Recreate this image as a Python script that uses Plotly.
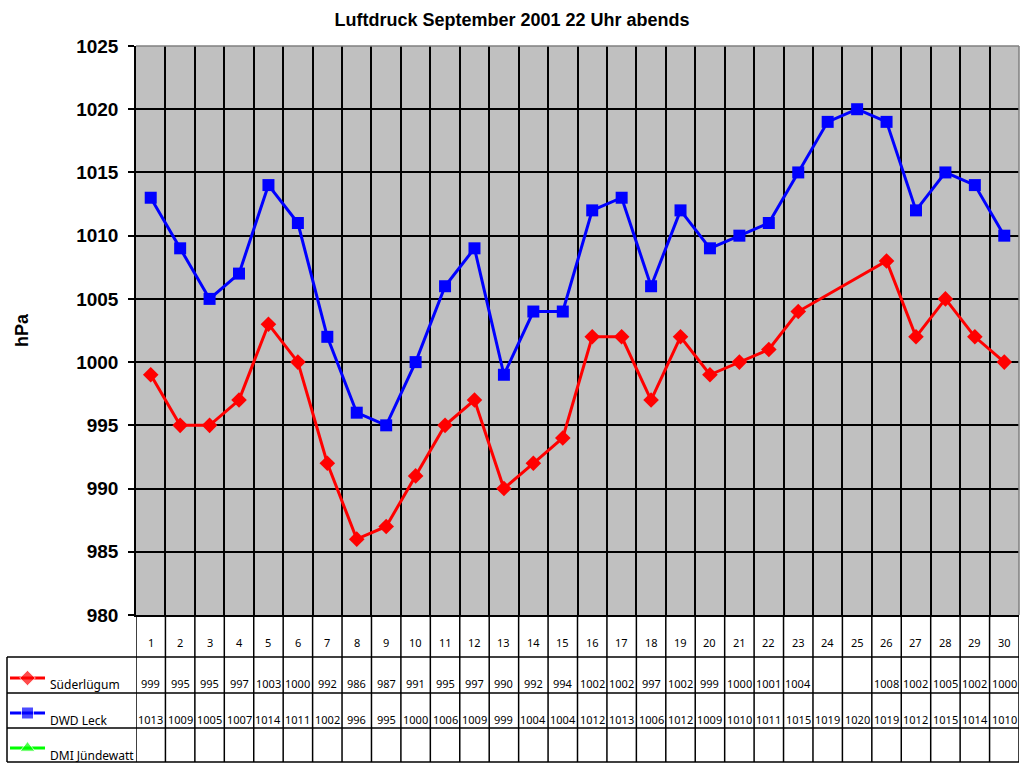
import plotly.graph_objects as go

# Luftdruck um 22 Uhr, September 2001
days = list(range(1, 31))
suederluegum = [999, 995, 995, 997, 1003, 1000, 992, 986, 987, 991,
                995, 997, 990, 992, 994, 1002, 1002, 997, 1002, 999,
                1000, 1001, 1004, None, None, 1008, 1002, 1005, 1002, 1000]
dwd_leck = [1013, 1009, 1005, 1007, 1014, 1011, 1002, 996, 995, 1000,
            1006, 1009, 999, 1004, 1004, 1012, 1013, 1006, 1012, 1009,
            1010, 1011, 1015, 1019, 1020, 1019, 1012, 1015, 1014, 1010]
dmi_juendewatt = [None] * 30  # keine Werte

series_names = ['Süderlügum', 'DWD Leck', 'DMI Jündewatt']
series_values = [suederluegum, dwd_leck, dmi_juendewatt]
series_colors = ['#FF0000', '#0000FF', '#00FF00']
series_symbols = ['diamond', 'square', 'triangle-up']
marker_sizes = [12, 12, 13]

W, H = 1024, 768


def py(p):
    # pixel row -> paper coordinate
    return (H - p) / H


def px_(p):
    return p / W


plot_left, plot_right, plot_top, plot_bottom = 136, 1019, 46, 615
table_rows = [657, 693, 728, 762]
value_rows = [683, 719, 754]
key_rows = [678, 713, 748]  # legend keys in the table, pixel rows

fig = go.Figure()
for i in range(3):
    fig.add_trace(go.Scatter(
        x=days, y=series_values[i], name=series_names[i],
        mode='lines+markers', connectgaps=True,
        line=dict(color=series_colors[i], width=3),
        marker=dict(symbol=series_symbols[i], size=marker_sizes[i],
                    color=series_colors[i]),
        showlegend=False))

# legend keys drawn in the left column of the data table
for i in range(3):
    fig.add_trace(go.Scatter(
        x=[10, 27.5, 45], y=[key_rows[i]] * 3, xaxis='x2', yaxis='y2',
        mode='lines+markers',
        line=dict(color=series_colors[i], width=3),
        marker=dict(symbol=series_symbols[i], size=[0, marker_sizes[i], 0],
                    color=series_colors[i]),
        showlegend=False))

tfont = dict(family='Noto Sans', size=11, color='black')
annotations = []
for d in days:
    annotations.append(dict(x=d, xref='x', y=py(642), yref='paper',
                            xanchor='center', yanchor='middle',
                            text=str(d), showarrow=False, font=tfont))
for i in range(3):
    for d, v in zip(days, series_values[i]):
        if v is None:
            continue
        annotations.append(dict(x=d, xref='x', y=py(value_rows[i]), yref='paper',
                                xanchor='center', yanchor='middle',
                                text=str(v), showarrow=False, font=tfont))
    annotations.append(dict(x=px_(48), xref='paper', xanchor='left',
                            y=py(value_rows[i] + 1), yref='paper', yanchor='middle',
                            text=series_names[i], showarrow=False,
                            font=dict(family='Noto Sans', size=12, color='black')))

annotations.append(dict(x=px_(22), y=py(330), xref='paper', yref='paper',
                        xanchor='center', yanchor='middle',
                        text='hPa', textangle=-90, showarrow=False,
                        font=dict(family='Liberation Sans', size=18, color='black',
                                  weight='bold')))

shapes = [dict(type='rect', xref='paper', yref='paper', layer='below',
               x0=px_(plot_left), x1=px_(plot_right), y0=py(plot_bottom), y1=py(plot_top),
               fillcolor='#C0C0C0', line=dict(width=0))]
for k in range(31):
    shapes.append(dict(type='line', xref='x', yref='paper',
                       x0=k + 0.5, x1=k + 0.5, y0=py(plot_bottom), y1=py(762),
                       line=dict(color='black', width=1.5)))
for r in table_rows:
    shapes.append(dict(type='line', xref='paper', yref='paper',
                       x0=px_(7), x1=px_(plot_right), y0=py(r), y1=py(r),
                       line=dict(color='black', width=1.5)))
shapes.append(dict(type='line', xref='paper', yref='paper',
                   x0=px_(7), x1=px_(7), y0=py(657), y1=py(762),
                   line=dict(color='black', width=1.5)))
# grey frame top/right of plot area
shapes.append(dict(type='line', xref='paper', yref='paper',
                   x0=px_(plot_left), x1=px_(plot_right), y0=py(plot_top), y1=py(plot_top),
                   line=dict(color='#808080', width=1.5)))
shapes.append(dict(type='line', xref='paper', yref='paper',
                   x0=px_(plot_right), x1=px_(plot_right), y0=py(plot_top), y1=py(plot_bottom),
                   line=dict(color='#808080', width=1.5)))

fig.update_layout(
    width=W, height=H, autosize=False,
    margin=dict(l=0, r=0, t=0, b=0, autoexpand=False),
    paper_bgcolor='white', plot_bgcolor='rgba(0,0,0,0)',
    showlegend=False,
    title=dict(text='<b>Luftdruck September 2001 22 Uhr abends</b>',
               x=0.5, xanchor='center', y=py(20), yanchor='middle',
               font=dict(family='Liberation Sans', size=18, color='black')),
    xaxis=dict(domain=[px_(plot_left), px_(plot_right)], range=[0.5, 30.5],
               tickmode='linear', tick0=0.5, dtick=1, showticklabels=False,
               ticks='', showgrid=True, gridcolor='black', gridwidth=1.5,
               showline=True, linecolor='black', linewidth=1.5, zeroline=False),
    yaxis=dict(domain=[py(plot_bottom), py(plot_top)], range=[980, 1025],
               tickmode='linear', tick0=980, dtick=5,
               ticks='outside', ticklen=6, tickcolor='black', tickwidth=1.5,
               ticklabelstandoff=6,
               tickfont=dict(family='Liberation Sans', size=19, color='black',
                             weight='bold'),
               showgrid=True, gridcolor='black', gridwidth=1.5,
               showline=True, linecolor='black', linewidth=1.5, zeroline=False),
    xaxis2=dict(domain=[px_(7), px_(136)], range=[7, 136], visible=False,
                anchor='y2', fixedrange=True),
    yaxis2=dict(domain=[py(762), py(657)], range=[762, 657], visible=False,
                anchor='x2', fixedrange=True),
    annotations=annotations,
    shapes=shapes,
    hovermode=False,
)

fig.write_html('out.html', config={'displayModeBar': False},
               post_script="document.body.style.margin='0';")
